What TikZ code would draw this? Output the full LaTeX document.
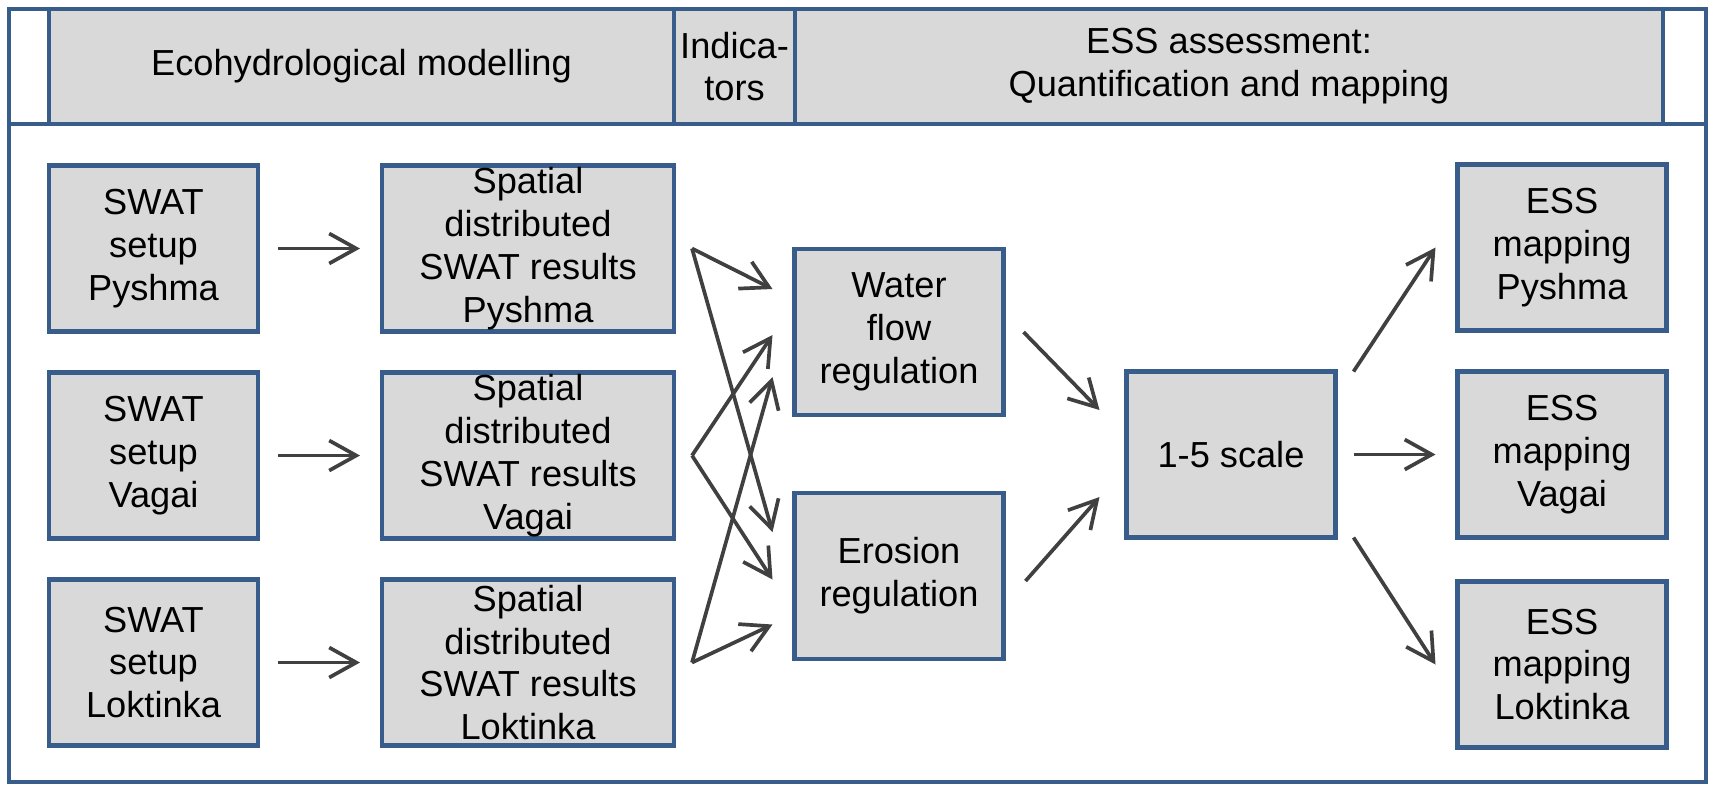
\documentclass[tikz,border=0pt]{standalone}
\usepackage{fontspec}
\setmainfont{Liberation Sans}
\usepackage{tikz}
\usetikzlibrary{arrows.meta, positioning, calc}
\definecolor{boxblue}{RGB}{56,93,138}
\definecolor{boxgray}{RGB}{217,217,217}
\definecolor{arrowgray}{RGB}{64,64,64}

\begin{document}
\begin{tikzpicture}[
  x=1mm, y=1mm,
  font=\fontsize{10.3pt}{12.2pt}\selectfont,
  box/.style={draw=boxblue,fill=boxgray,line width=1.2pt,minimum width=20.9mm,
              minimum height=16.6mm,inner sep=0pt,outer sep=0pt,align=center},
  widebox/.style={box,minimum width=29.2mm},
  hdr/.style={draw=boxblue,fill=boxgray,line width=0.9pt,minimum height=11.5mm,
              inner sep=0pt,outer sep=0pt,align=center},
  frame/.style={draw=boxblue,line width=0.9pt},
  arrow/.style={-{Straight Barb[length=2.7mm,width=3mm]},line width=1.05pt,color=arrowgray}
]
  \useasboundingbox (0,0) rectangle (171.3,-78.4);

  % frame and header row
  \draw[frame] (0.9,-0.9) rectangle (170.6,-78.2);
  \draw[frame] (0.9,-12.4) -- (170.6,-12.4);
  \node[hdr, minimum width=62.5mm] (hmodel) at (36.15,-6.65) {Ecohydrological modelling};
  \node[hdr, minimum width=12.1mm, right=0mm of hmodel] (hind) {Indica-\\tors};
  \node[hdr, minimum width=86.8mm, right=0mm of hind] (hess) {ESS assessment:\\Quantification and mapping};

  % modelling
  \node[box] (sw1) at (15.35,-24.85) {SWAT\\setup\\Pyshma};
  \node[box, below=4.1mm of sw1] (sw2) {SWAT\\setup\\Vagai};
  \node[box, below=4.1mm of sw2] (sw3) {SWAT\\setup\\Loktinka};
  \node[widebox, right=12.4mm of sw1] (sp1) {Spatial\\distributed\\SWAT results\\Pyshma};
  \node[widebox, right=12.4mm of sw2] (sp2) {Spatial\\distributed\\SWAT results\\Vagai};
  \node[widebox, right=12.4mm of sw3] (sp3) {Spatial\\distributed\\SWAT results\\Loktinka};

  % indicators
  \node[box] (water) at (89.9,-33.2) {Water\\flow\\regulation};
  \node[box, below=7.8mm of water] (erosion) {Erosion\\regulation};

  % assessment
  \node[box] (scale) at (123.1,-45.45) {1-5 scale};
  \node[box, right=12.2mm of scale] (map2) {ESS\\mapping\\Vagai};
  \node[box, above=4.1mm of map2] (map1) {ESS\\mapping\\Pyshma};
  \node[box, below=4.4mm of map2] (map3) {ESS\\mapping\\Loktinka};

  \foreach \i in {1,2,3}
    \draw[arrow, shorten <=2mm, shorten >=2.2mm] (sw\i) -- (sp\i);
  \foreach \i/\wy/\ey in {1/4.3/4.4, 2/-0.3/-0.35, 3/-4.5/-4.85} {
    \draw[arrow] ($(sp\i.east)+(1.8,0)$) -- ($(water.west)+(-2.2,\wy)$);
    \draw[arrow] ($(sp\i.east)+(1.8,0)$) -- ($(erosion.west)+(-2.2,\ey)$);
  }
  \draw[arrow] ($(water.east)+(2,0)$) -- ($(scale.west)+(-2.7,4.45)$);
  \draw[arrow] ($(erosion.east)+(2.2,-0.5)$) -- ($(scale.west)+(-2.7,-4.25)$);
  \draw[arrow] ($(scale.north east)+(1.8,0)$) -- ($(map1.west)+(-2.2,0)$);
  \draw[arrow] ($(scale.east)+(1.8,0)$) -- ($(map2.west)+(-2.2,0)$);
  \draw[arrow] ($(scale.south east)+(1.8,0)$) -- ($(map3.west)+(-2.2,0)$);
\end{tikzpicture}
\end{document}
